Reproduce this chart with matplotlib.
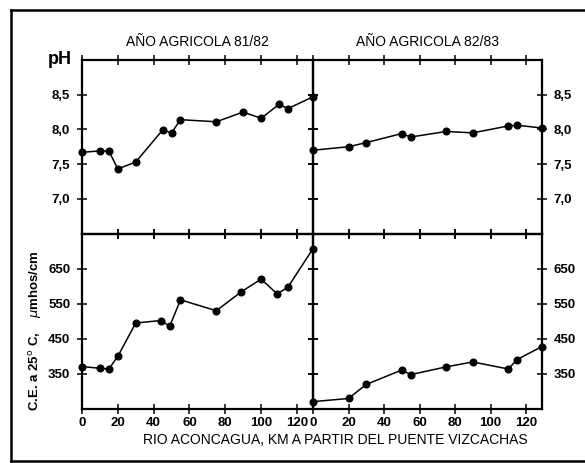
import numpy as np
import matplotlib
matplotlib.use("Agg")
import matplotlib.pyplot as plt
from matplotlib.lines import Line2D

plt.rcParams["font.family"] = ["Liberation Sans", "DejaVu Sans"]

# km downstream from Puente Vizcachas
km_8182 = [0, 10, 15, 20, 30, 45, 50, 55, 75, 90, 100, 110, 115, 129]
ph_8182 = [7.67, 7.69, 7.69, 7.43, 7.53, 7.99, 7.95, 8.14, 8.11, 8.25, 8.16, 8.36, 8.30, 8.47]
ce_km_8182 = [0, 10, 15, 20, 30, 44, 49, 55, 75, 89, 100, 109, 115, 129]
ce_8182 = [371, 366, 364, 400, 495, 502, 486, 561, 530, 584, 620, 578, 597, 707]

km_8283 = [0, 20, 30, 50, 55, 75, 90, 110, 115, 129]
ph_8283 = [7.70, 7.75, 7.81, 7.94, 7.89, 7.97, 7.95, 8.05, 8.06, 8.02]
ce_8283 = [271, 280, 320, 361, 348, 370, 384, 364, 391, 428]

xticks = [0, 20, 40, 60, 80, 100, 120]
ph_ticks = [7.0, 7.5, 8.0, 8.5]
ph_labels = ["7,0", "7,5", "8,0", "8,5"]
ce_ticks = [350, 450, 550, 650]

W, H = 585, 463
fig = plt.figure(figsize=(W / 100, H / 100), dpi=100)


def box(x0, y0, x1, y1):
    # pixel box (top-left origin) -> figure fraction rect
    return [x0 / W, (H - y1) / H, (x1 - x0) / W, (y1 - y0) / H]


ax_ph1 = fig.add_axes(box(82, 60, 313, 233.5))
ax_ph2 = fig.add_axes(box(313, 60, 542, 233.5))
ax_ce1 = fig.add_axes(box(82, 233.5, 313, 409))
ax_ce2 = fig.add_axes(box(313, 233.5, 542, 409))

series = [
    (ax_ph1, km_8182, ph_8182),
    (ax_ph2, km_8283, ph_8283),
    (ax_ce1, ce_km_8182, ce_8182),
    (ax_ce2, km_8283, ce_8283),
]
for ax, x, y in series:
    ax.plot(x, y, color="black", lw=1.1, marker="o", ms=4.8, clip_on=False, zorder=5)
    ax.set_xlim(0, 129)
    ax.set_xticks(xticks)
    for s in ax.spines.values():
        s.set_linewidth(1.6)
    ax.tick_params(direction="inout", length=7, width=1.1, labelsize=9.5,
                   top=True, bottom=True, left=True, right=True,
                   labeltop=False, labelbottom=False, labelleft=False, labelright=False)
    ax.patch.set_visible(False)

for ax in (ax_ph1, ax_ph2):
    ax.set_ylim(6.5, 9.0)
    ax.set_yticks(ph_ticks)
    ax.set_yticklabels(ph_labels, fontweight="bold")
for ax in (ax_ce1, ax_ce2):
    ax.set_ylim(250, 750)
    ax.set_yticks(ce_ticks)
    ax.set_yticklabels([str(v) for v in ce_ticks], fontweight="bold")
for ax in (ax_ce1, ax_ce2):
    ax.set_xticklabels([str(v) for v in xticks], fontweight="bold")
    ax.tick_params(axis="x", labelbottom=True, pad=2)

ax_ph1.tick_params(axis="y", labelleft=True, pad=5)
ax_ce1.tick_params(axis="y", labelleft=True, pad=5)
ax_ph2.tick_params(axis="y", labelright=True, pad=5)
ax_ce2.tick_params(axis="y", labelright=True, pad=5)

ax_ph1.set_title("AÑO AGRICOLA 81/82", fontsize=10, pad=10)
ax_ph2.set_title("AÑO AGRICOLA 82/83", fontsize=10, pad=10)

fig.text(60 / W, 1 - 60 / H, "pH", fontsize=13, fontweight="bold", ha="center", va="center")
fig.text(36 / W, 1 - 331 / H, "C.E. a 25$^{\\rm o}$ C,    $\\mu$mhos/cm", rotation=90,
         fontsize=9.5, fontweight="bold", ha="center", va="center")
fig.text(335 / W, 1 - 440 / H, "RIO ACONCAGUA, KM A PARTIR DEL PUENTE VIZCACHAS",
         fontsize=10, ha="center", va="center")

# outer frame (left, top, bottom)
lw = 1.8
fig.add_artist(Line2D([11 / W, 11 / W], [1 - 10 / H, 1 - 461 / H], color="black", lw=lw))
fig.add_artist(Line2D([11 / W, 1], [1 - 10 / H, 1 - 10 / H], color="black", lw=lw))
fig.add_artist(Line2D([11 / W, 1], [1 - 461 / H, 1 - 461 / H], color="black", lw=lw))

fig.savefig("out.png", dpi=100)
